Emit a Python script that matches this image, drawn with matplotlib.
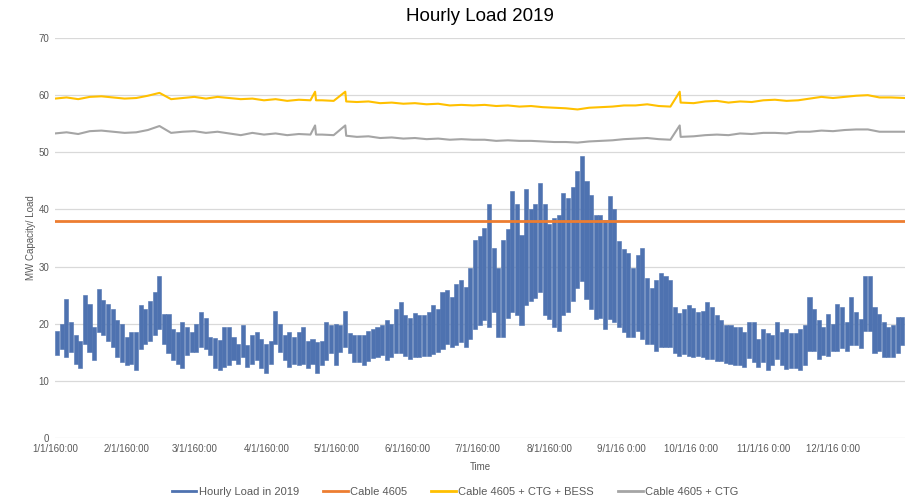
import numpy as np
import matplotlib
matplotlib.use("Agg")
import matplotlib.pyplot as plt
from matplotlib.lines import Line2D

plt.rcParams['font.family'] = ['Liberation Sans', 'DejaVu Sans']

# ---------------- data ----------------
# Hourly load 2019 summarised as daily low / daily high, every 2 days (day 0 .. 364)
load_days = list(range(0, 365, 2))
load_high = [
    18.8, 20.0, 24.4, 20.3, 18.0, 17.0, 25.0, 23.5, 19.4, 26.0, 24.2, 23.5, 22.6, 20.6, 20.0, 17.7,
    18.5, 18.5, 23.2, 22.6, 24.0, 25.5, 28.4, 21.7, 21.7, 19.0, 18.5, 20.3, 19.4, 18.5, 20.0, 22.0,
    21.0, 17.7, 17.5, 17.1, 19.4,
    19.4, 17.7, 16.5, 19.7, 16.2, 18.0, 18.5, 17.4, 16.5, 17.0, 22.3, 20.0, 18.0, 18.5, 17.7, 18.5,
    19.4, 17.0, 17.4, 16.8, 17.0, 20.3, 19.7, 20.0, 19.7, 22.3, 18.3, 18.0, 18.0, 18.0, 18.8, 19.0,
    19.4, 19.7, 20.6, 20.0, 22.6, 23.8,
    21.5, 21.0, 21.8, 21.5, 21.5, 22.0, 23.2, 22.6, 25.6, 25.9, 24.7, 27.0, 27.6, 26.5, 29.7, 34.7,
    35.3, 36.8, 40.9, 33.2, 29.7, 34.7, 36.5, 43.2, 40.9, 35.6, 43.5, 40.0, 40.9, 44.7, 40.9, 37.4,
    38.5, 39.1, 42.9, 42.0,
    44.0, 46.8, 49.4, 45.0, 42.6, 39.1, 39.1, 38.2, 42.4, 40.0, 34.4, 33.0, 32.4, 29.7, 32.0, 33.2,
    28.0, 26.2, 27.6, 28.8, 28.4, 27.6, 23.0, 21.8, 22.6, 23.2, 22.8, 22.0, 22.2, 23.8, 23.0, 21.5,
    20.6, 19.7, 19.8,
    19.4, 19.4, 18.5, 20.3, 20.3, 17.4, 19.1, 18.3, 18.0, 20.3, 18.5, 19.1, 18.3, 18.3, 19.1, 19.7,
    24.7, 22.6, 20.6, 19.5, 21.7, 20.0, 23.5, 22.9, 20.3, 24.7, 22.0, 20.9, 28.4, 28.4, 22.9, 21.7,
    20.3, 19.5, 19.7, 21.2, 21.2,
]
load_low = [
    14.5, 15.5, 14.2, 15.0, 13.0, 12.2, 16.5, 15.0, 13.6, 18.5, 18.0, 17.0, 16.0, 14.2, 13.3, 12.7,
    13.0, 11.9, 15.5, 16.5, 17.0, 18.0, 19.0, 16.5, 14.8, 13.6, 13.0, 12.2, 14.5, 15.0, 15.0, 16.0,
    15.5, 14.5, 12.2, 11.9, 12.5,
    12.7, 13.6, 13.0, 14.2, 12.4, 13.0, 13.6, 12.2, 11.3, 13.0, 16.5, 15.0, 13.6, 12.4, 13.0, 12.7,
    13.0, 12.2, 13.0, 11.3, 12.7, 13.6, 14.8, 12.7, 15.0, 16.0, 14.8, 13.3, 13.3, 12.7, 13.5, 14.0,
    14.2, 14.5, 13.6, 14.2, 14.8, 14.8,
    14.4, 13.8, 14.1, 14.2, 14.4, 14.4, 14.7, 15.0, 15.6, 16.5, 16.0, 16.2, 16.8, 15.9, 17.4, 19.1,
    19.7, 20.6, 19.4, 22.0, 17.6, 17.6, 21.0, 22.1, 21.5, 19.7, 23.2, 24.0, 24.5, 25.6, 21.5, 20.9,
    19.5, 18.8, 21.5, 22.0,
    24.0, 26.2, 27.4, 24.4, 22.6, 20.9, 21.0, 19.1, 20.9, 20.3, 19.5, 18.5, 17.6, 17.6, 18.8, 17.4,
    16.5, 16.5, 15.3, 16.0, 16.0, 15.9, 14.8, 14.4, 14.7, 14.4, 14.2, 14.4, 14.1, 13.8, 13.8, 13.5,
    13.5, 13.2, 12.9,
    12.7, 12.7, 12.4, 14.0, 13.3, 12.4, 13.3, 11.9, 12.7, 13.9, 12.7, 12.1, 12.2, 12.2, 11.9, 12.8,
    15.3, 15.3, 13.9, 14.5, 14.3, 15.3, 15.3, 15.8, 15.3, 16.2, 16.2, 15.8, 18.8, 18.8, 14.8, 15.3,
    14.2, 14.2, 14.2, 14.8, 16.2,
]

cable_4605 = 38.0

cap_days = [0, 5, 10, 15, 20, 25, 30, 35, 40, 45, 50, 55, 60, 65, 70, 75, 80, 85, 90, 95, 100, 105,
            110, 112, 112.4, 115, 120, 125, 125.4, 130, 135, 140, 145, 150, 155, 160, 165, 170, 175,
            180, 185, 190, 195, 200, 205, 210, 215, 220, 225, 230, 235, 240, 245, 250, 255, 260, 265,
            269, 269.4, 275, 280, 285, 290, 295, 300, 305, 310, 315, 320, 325, 330, 335, 340, 345,
            350, 355, 360, 366]
cap_ctg_bess = [59.4, 59.6, 59.3, 59.7, 59.8, 59.6, 59.4, 59.5, 59.9, 60.4, 59.3, 59.5, 59.7, 59.4,
                59.7, 59.5, 59.3, 59.4, 59.1, 59.3, 59.0, 59.2, 59.1, 60.6, 59.1, 59.1, 59.0, 60.6,
                58.9, 58.8, 58.9, 58.6, 58.7, 58.5, 58.6, 58.4, 58.5, 58.2, 58.3, 58.2, 58.3, 58.1,
                58.2, 58.0, 58.1, 57.9, 57.8, 57.7, 57.5, 57.8, 57.9, 58.0, 58.2, 58.2, 58.4, 58.1,
                58.0, 60.6, 58.7, 58.6, 58.9, 59.0, 58.7, 58.9, 58.8, 59.1, 59.2, 59.0, 59.1, 59.4,
                59.7, 59.5, 59.7, 59.9, 60.0, 59.6, 59.6, 59.5]
cap_ctg = [53.3, 53.5, 53.2, 53.7, 53.8, 53.6, 53.4, 53.5, 53.9, 54.6, 53.4, 53.6, 53.7, 53.4,
           53.6, 53.3, 53.0, 53.4, 53.1, 53.3, 53.0, 53.2, 53.1, 54.7, 53.1, 53.1, 53.0, 54.7,
           52.9, 52.7, 52.8, 52.5, 52.6, 52.4, 52.5, 52.3, 52.4, 52.2, 52.3, 52.2, 52.2, 52.0,
           52.1, 52.0, 52.0, 51.9, 51.8, 51.8, 51.7, 51.9, 52.0, 52.1, 52.3, 52.4, 52.5, 52.3,
           52.2, 54.7, 52.7, 52.8, 53.0, 53.1, 53.0, 53.3, 53.2, 53.4, 53.4, 53.3, 53.6, 53.6,
           53.8, 53.7, 53.9, 54.0, 54.0, 53.6, 53.6, 53.6]

month_start_days = [0, 31, 60, 91, 121, 152, 182, 213, 244, 274, 305, 335]
month_labels = ["1/1/160:00", "2/1/160:00", "3/1/160:00", "4/1/160:00", "5/1/160:00",
                "6/1/160:00", "7/1/160:00", "8/1/160:00", "9/1/16 0:00", "10/1/16 0:00",
                "11/1/16 0:00", "12/1/16 0:00"]
y_ticks = [0, 10, 20, 30, 40, 50, 60, 70]

# ---------------- plot ----------------
LOAD_C = '#4E72B0'
fig = plt.figure(figsize=(9.10, 4.97), dpi=100)
ax = fig.add_axes([0.0604, 0.1187, 0.9341, 0.8048])

hi = np.asarray(load_high)
lo = np.asarray(load_low)
ax.bar(load_days, hi - lo, bottom=lo, width=1.75, align='edge', color=LOAD_C,
       edgecolor=LOAD_C, linewidth=0.4, zorder=3)
ax.plot([0, 366], [cable_4605, cable_4605], color='#ED7D31', lw=2.0, zorder=4)
ax.plot(cap_days, cap_ctg_bess, color='#FFC000', lw=1.5, zorder=4)
ax.plot(cap_days, cap_ctg, color='#A5A5A5', lw=1.5, zorder=4)

ax.set_xlim(0, 366)
ax.set_ylim(0, 70)
ax.set_yticks(y_ticks)
ax.set_xticks(month_start_days)
ax.set_xticklabels(month_labels)
ax.grid(axis='y', color='#D9D9D9', lw=0.9)
ax.set_axisbelow(True)
for s in ax.spines.values():
    s.set_visible(False)
ax.tick_params(axis='both', length=0, labelsize=7, labelcolor='#595959', pad=4)

ax.set_title('Hourly Load 2019', fontsize=13.5, color='#000000', pad=12)
ax.set_xlabel('Time', fontsize=7, color='#595959', labelpad=6)
ax.set_ylabel('MW Capacity/ Load', fontsize=7, color='#595959', labelpad=2)

handles = [Line2D([], [], color=LOAD_C, lw=2),
           Line2D([], [], color='#ED7D31', lw=2),
           Line2D([], [], color='#FFC000', lw=2),
           Line2D([], [], color='#A5A5A5', lw=2)]
labels = ['Hourly Load in 2019', 'Cable 4605', 'Cable 4605 + CTG + BESS', 'Cable 4605 + CTG']
leg = fig.legend(handles, labels, loc='lower center', ncol=4, frameon=False, fontsize=8,
                 bbox_to_anchor=(0.5, -0.02), handlelength=2.2, columnspacing=2.2,
                 handletextpad=0.2)
for t in leg.get_texts():
    t.set_color('#595959')

fig.savefig('out.png', dpi=100)
